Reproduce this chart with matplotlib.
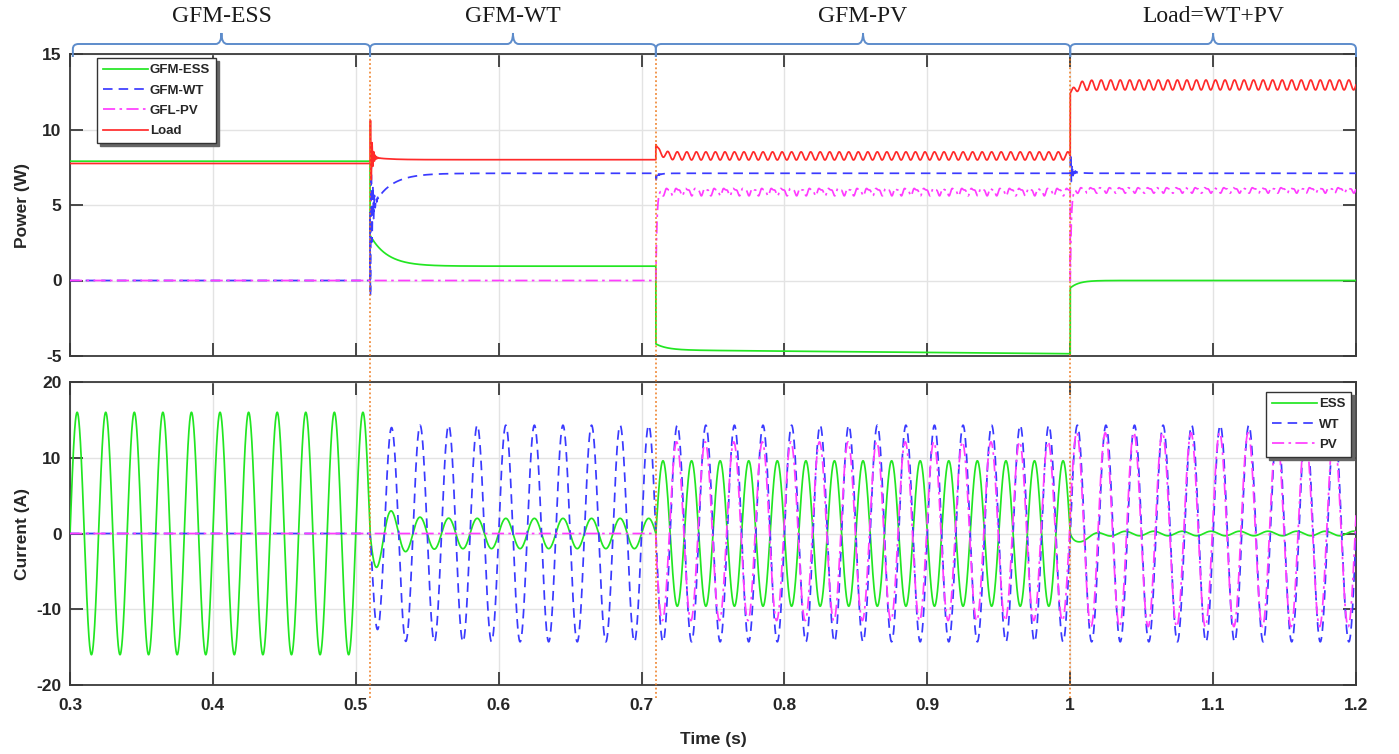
import numpy as np
import matplotlib
matplotlib.use("Agg")
import matplotlib.pyplot as plt
import matplotlib.font_manager as fm
from matplotlib.path import Path
from matplotlib.patches import PathPatch
from matplotlib.lines import Line2D
from matplotlib.transforms import blended_transform_factory

# ---------------- data ----------------
seg_start = [0.30, 0.51, 0.71, 1.00]          # switching instants (s)
seg_names = ["GFM-ESS", "GFM-WT", "GFM-PV", "Load=WT+PV"]
f_grid = 50.0                                  # Hz

# power panel (W)
p_ess_init = [7.9, 3.0, -4.2, -0.5]
p_ess_final = [7.9, 0.95, -4.6, 0.0]
p_ess_tau = [1.0, 0.012, 0.008, 0.006]
p_ess_drift = [0.0, 0.0, -0.25, 0.0]
p_wt_init = [0.0, 4.5, 6.9, 7.3]
p_wt_final = [0.0, 7.1, 7.1, 7.1]
p_wt_tau = [1.0, 0.012, 0.003, 0.004]
p_wt_spike = [0.0, -7.0, -0.3, 1.4]
p_pv_level = [0.0, 0.0, 5.9, 6.0]
p_pv_ripple = [0.0, 0.0, 0.3, 0.22]
p_load_init = [7.75, 8.2, 9.0, 12.4]
p_load_final = [7.75, 8.0, 8.25, 12.95]
p_load_tau = [1.0, 0.01, 0.003, 0.004]
p_load_spike = [0.0, 3.0, 0.0, 0.0]
p_load_ripple = [0.0, 0.0, 0.27, 0.33]
ripple_freq = 150.0
spike_freq = 900.0
spike_tau = 0.0012

# current panel (A)
i_ess_amp = [16.0, 2.0, -9.6, 0.3]
i_ess_amp_init = [16.0, 5.8, -9.6, 0.3]
i_ess_tau = [1.0, 0.011, 1.0, 1.0]
i_ess_phase = [0.0, 0.0, 0.0, 2.04]
i_ess_dip = [0.0, 0.0, 0.0, -1.0]
i_wt_amp = [0.0, 14.3, 14.3, 14.3]
i_wt_amp_init = [0.0, 10.5, 14.3, 14.3]
i_wt_tau = [1.0, 0.006, 1.0, 1.0]
i_pv_amp = [0.0, 0.0, 11.8, 12.8]
i_pv_offset = [0.0, 0.0, 0.3, 0.5]

x_ticks = [0.3, 0.4, 0.5, 0.6, 0.7, 0.8, 0.9, 1.0, 1.1, 1.2]
x_ticklabels = ["0.3", "0.4", "0.5", "0.6", "0.7", "0.8", "0.9", "1", "1.1", "1.2"]
p_ticks = [-5, 0, 5, 10, 15]
i_ticks = [-20, -10, 0, 10, 20]

# ---------------- build waveforms ----------------
dt = 2e-5
t = np.arange(0.3, 1.2 + dt / 2, dt)
k = np.searchsorted(seg_start, t, side="right") - 1
t0 = np.asarray(seg_start)[k]
tl = t - t0
seg_len = np.diff(seg_start + [1.2])[k]
A = lambda lst: np.asarray(lst)[k]

def settle(init, final, tau):
    return A(final) + (A(init) - A(final)) * np.exp(-tl / A(tau))

def spike(amp):
    return A(amp) * np.exp(-tl / spike_tau) * np.sin(2 * np.pi * spike_freq * tl)

w = 2 * np.pi * f_grid
ripple = np.sin(2 * np.pi * ripple_freq * tl)
ramp_in = 1 - np.exp(-tl / 0.003)

p_ess = settle(p_ess_init, p_ess_final, p_ess_tau) + A(p_ess_drift) * tl / seg_len
p_wt = settle(p_wt_init, p_wt_final, p_wt_tau) + spike(p_wt_spike)
p_pv = (A(p_pv_level) + A(p_pv_ripple) * (0.7 * ripple + 0.3 * np.sin(4 * np.pi * ripple_freq * tl + 1.0))) * np.where(A(p_pv_level) > 0, 1 - np.exp(-tl / 0.0008), 1)
p_load = settle(p_load_init, p_load_final, p_load_tau) + spike(p_load_spike) + A(p_load_ripple) * ripple * ramp_in

ess_env = A(i_ess_amp) + (A(i_ess_amp_init) - A(i_ess_amp)) * np.exp(-tl / A(i_ess_tau))
i_ess = ess_env * np.sin(w * t + A(i_ess_phase)) * np.where(k == 3, 1 - np.exp(-tl / 0.006), 1)
i_ess += A(i_ess_dip) * (tl / 0.0047) * np.exp(1 - tl / 0.0047)
wt_env = A(i_wt_amp) + (A(i_wt_amp_init) - A(i_wt_amp)) * np.exp(-tl / A(i_wt_tau))
i_wt = wt_env * np.sin(w * t)
i_pv = A(i_pv_amp) * np.sin(w * t + 0.15) + A(i_pv_offset)

# ---------------- fonts ----------------
avail = {f.name for f in fm.fontManager.ttflist}
sans = "Liberation Sans Narrow" if "Liberation Sans Narrow" in avail else "Liberation Sans"
serif = "Liberation Serif"
plt.rcParams["font.family"] = [sans, "DejaVu Sans"]

# ---------------- figure ----------------
W, H = 1399, 754
fig = plt.figure(figsize=(W / 100, H / 100), dpi=100)
fig.patch.set_facecolor("white")

def frac(l, top, r, b):
    return [l / W, 1 - b / H, (r - l) / W, (b - top) / H]

ax1 = fig.add_axes(frac(70, 54, 1356, 356))
ax2 = fig.add_axes(frac(70, 382, 1356, 685))

c_green = "#22e622"
c_blue = "#3a3aff"
c_mag = "#ff3cff"
c_red = "#ff2a2a"
ls_dash = (0, (5.5, 3.5))
ls_dd = (0, (7, 2.5, 1.5, 2.5))
lw = 1.25

ax1.plot(t, p_ess, color=c_green, lw=lw, label="GFM-ESS", zorder=3)
ax1.plot(t, p_wt, color=c_blue, lw=lw, ls=ls_dash, label="GFM-WT", zorder=3)
ax1.plot(t, p_pv, color=c_mag, lw=lw, ls=ls_dd, label="GFL-PV", zorder=3)
ax1.plot(t, p_load, color=c_red, lw=lw, label="Load", zorder=4)

ax2.plot(t, i_ess, color=c_green, lw=lw, label="ESS", zorder=3)
ax2.plot(t, i_wt, color=c_blue, lw=lw, ls=ls_dash, label="WT", zorder=3)
ax2.plot(t, i_pv, color=c_mag, lw=lw, ls=ls_dd, label="PV", zorder=3)

for ax, yt, ylim in ((ax1, p_ticks, (-5, 15)), (ax2, i_ticks, (-20, 20))):
    ax.set_xlim(0.3, 1.2)
    ax.set_ylim(*ylim)
    ax.set_xticks(x_ticks)
    ax.set_yticks(yt)
    ax.set_yticklabels([str(v) for v in yt])
    ax.grid(True, color="#e3e3e3", lw=1.0, zorder=0)
    ax.set_axisbelow(True)
    ax.tick_params(direction="in", length=9.5, width=1.3, color="#3a3a3a",
                   top=True, right=True, labelsize=12.5, labelcolor="#262626", pad=6)
    ax.tick_params(axis="x", pad=9)
    for lab in ax.get_yticklabels():
        lab.set_fontweight("bold")
    for sp in ax.spines.values():
        sp.set_color("#3a3a3a")
        sp.set_linewidth(1.3)

ax1.set_xticklabels([])
ax2.set_xticklabels(x_ticklabels, fontweight="bold")

ax1.set_ylabel("Power (W)", fontsize=12.5, fontweight="bold", color="#262626")
ax2.set_ylabel("Current (A)", fontsize=12.5, fontweight="bold", color="#262626")
ax1.yaxis.set_label_coords(-0.031, 0.5)
ax2.yaxis.set_label_coords(-0.031, 0.5)
ax2.set_xlabel("Time (s)", fontsize=12.5, fontweight="bold", color="#262626", labelpad=14)

leg_kw = dict(loc="upper left", frameon=True, fancybox=False, borderaxespad=0,
              handlelength=3.4, handletextpad=0.15, labelspacing=0.62, borderpad=0.45,
              prop={"weight": "bold", "size": 9.5, "family": [sans]},
              shadow={"ox": 2.0, "oy": -2.0, "color": "#666666", "alpha": 1.0})
lg1 = ax1.legend(bbox_to_anchor=(97 / W, 1 - 58 / H), bbox_transform=fig.transFigure, **leg_kw)
lg2 = ax2.legend(bbox_to_anchor=(1266 / W, 1 - 392 / H), bbox_transform=fig.transFigure, **leg_kw)
for lg in (lg1, lg2):
    lg.get_frame().set_edgecolor("#333333")
    lg.get_frame().set_linewidth(1.0)
    for txt in lg.get_texts():
        txt.set_color("#262626")

# vertical switching markers spanning both panels
tr = blended_transform_factory(ax2.transData, fig.transFigure)
for xe in seg_start[1:]:
    fig.add_artist(Line2D([xe, xe], [1 - 46 / H, 1 - 698 / H], transform=tr,
                          color="#ee7a1e", lw=1.1, ls=(0, (1.2, 1.6)), zorder=5))

# curly braces + segment titles
seg_end = seg_start[1:] + [1.2]
yl, ybot, ytip, dy = 1 - 44 / H, 1 - 57 / H, 1 - 33 / H, 5 / H
r = 0.004
for i, (x0, x1) in enumerate(zip(seg_start, seg_end)):
    if i == 0:
        x0 = 0.302
    xm = (x0 + x1) / 2
    verts = [(x0, ybot), (x0, yl - dy), (x0, yl), (x0 + r, yl),
             (xm - r, yl), (xm, yl), (xm, ytip), (xm, yl), (xm + r, yl),
             (x1 - r, yl), (x1, yl), (x1, yl - dy), (x1, ybot)]
    codes = [Path.MOVETO, Path.LINETO, Path.CURVE3, Path.CURVE3,
             Path.LINETO, Path.CURVE3, Path.CURVE3, Path.CURVE3, Path.CURVE3,
             Path.LINETO, Path.CURVE3, Path.CURVE3, Path.LINETO]
    fig.add_artist(PathPatch(Path(verts, codes), transform=tr, fill=False,
                             edgecolor="#5d8ccb", lw=1.4, zorder=6))
    fig.text(xm, 1 - 16 / H, seg_names[i], transform=tr, ha="center", va="center",
             fontsize=17, family=serif, color="#1a1a1a")

fig.savefig("out.png", dpi=100, facecolor="white")
